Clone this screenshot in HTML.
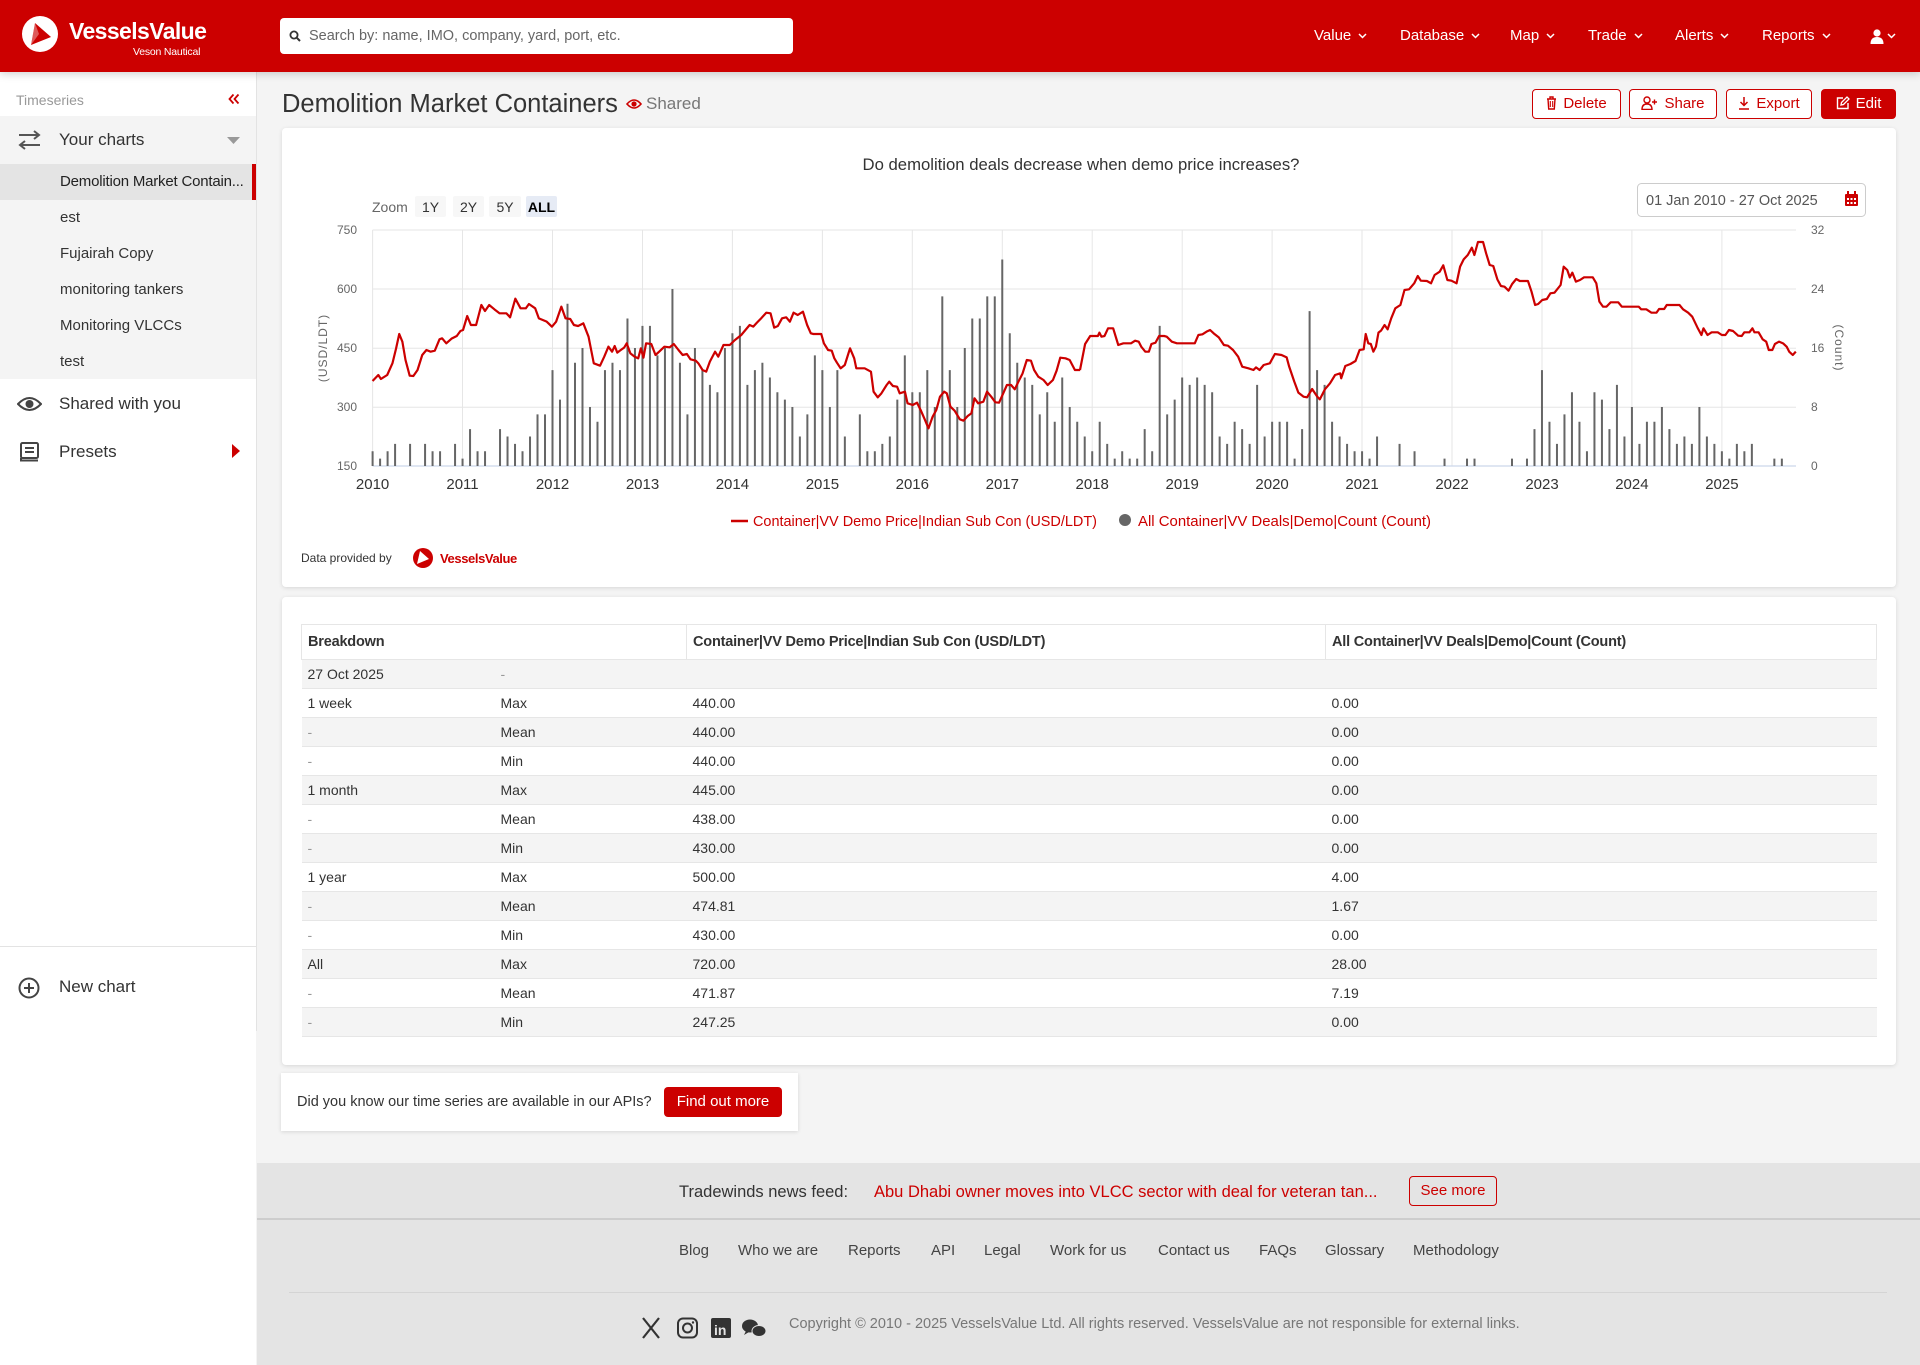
<!DOCTYPE html>
<html><head><meta charset="utf-8">
<style>
*{box-sizing:border-box;margin:0;padding:0}
html,body{width:1920px;height:1365px;overflow:hidden}
body{background:#f4f4f4;font-family:"Liberation Sans",Arial,sans-serif;color:#333;position:relative}
.abs{position:absolute}
.hdr{left:0;top:0;width:1920px;height:72px;background:#cc0000;box-shadow:0 2px 8px rgba(0,0,0,.18);z-index:5}
.nav{position:absolute;top:26px;color:#fff;font-size:15px;line-height:20px;white-space:nowrap}
.nav svg{margin-left:7px;vertical-align:middle}
.side{left:0;top:72px;width:256px;height:1293px;background:#fff}
.sb{position:absolute;white-space:nowrap}
.card{position:absolute;background:#fff;border-radius:4px;box-shadow:0 1px 4px rgba(0,0,0,.12)}
.btn{position:absolute;top:89px;height:30px;border:1px solid #cc0000;border-radius:4px;color:#cc0000;font-size:15px;line-height:28px;text-align:center;background:#fff;white-space:nowrap}
.btn svg{vertical-align:-2px;margin-right:6px}
table{border-collapse:collapse;table-layout:fixed}
th{height:35px;border:1px solid #e6e6e6;text-align:left;font-size:14.5px;font-weight:bold;color:#333;padding-left:6px;background:#fff;letter-spacing:-0.2px}
td{height:29px;border-bottom:1px solid #e6e6e6;font-size:14px;color:#333;padding-left:6px;white-space:nowrap}
tbody tr:nth-child(odd) td{background:#f4f4f4}
td.d{color:#999}
.fl{position:absolute;top:1242px;font-size:15px;color:#444;white-space:nowrap}
</style></head>
<body>

<!-- HEADER -->
<div class="abs hdr">
  <svg class="abs" style="left:22px;top:16px" width="36" height="36" viewBox="0 0 36 36">
    <circle cx="18" cy="18" r="18" fill="#fff"/>
    <polygon points="13,7 29,21 9,29" fill="#cc0000"/>
    <polygon points="13,7 17,18 9,29" fill="#fff" opacity=".35"/>
  </svg>
  <div class="abs" style="left:69px;top:18px;color:#fff;font-size:23px;font-weight:bold;letter-spacing:-0.6px;line-height:26px">VesselsValue</div>
  <div class="abs" style="left:133px;top:46px;color:#fff;font-size:10.5px;line-height:12px;letter-spacing:-0.2px">Veson Nautical</div>
  <div class="abs" style="left:280px;top:18px;width:513px;height:36px;background:#fff;border-radius:4px">
    <svg class="abs" style="left:9px;top:12px" width="12" height="12" viewBox="0 0 12 12"><circle cx="5" cy="5" r="3.6" fill="none" stroke="#333" stroke-width="1.8"/><line x1="7.6" y1="7.6" x2="11" y2="11" stroke="#333" stroke-width="2"/></svg>
    <div class="abs" style="left:29px;top:0;line-height:36px;font-size:14.5px;color:#666;white-space:nowrap">Search by: name, IMO, company, yard, port, etc.</div>
  </div>
  <div class="nav" style="left:1314px">Value<svg width="9" height="6"><polyline points="1,1 4.5,4.5 8,1" fill="none" stroke="#fff" stroke-width="1.5"/></svg></div>
  <div class="nav" style="left:1400px">Database<svg width="9" height="6"><polyline points="1,1 4.5,4.5 8,1" fill="none" stroke="#fff" stroke-width="1.5"/></svg></div>
  <div class="nav" style="left:1510px">Map<svg width="9" height="6"><polyline points="1,1 4.5,4.5 8,1" fill="none" stroke="#fff" stroke-width="1.5"/></svg></div>
  <div class="nav" style="left:1588px">Trade<svg width="9" height="6"><polyline points="1,1 4.5,4.5 8,1" fill="none" stroke="#fff" stroke-width="1.5"/></svg></div>
  <div class="nav" style="left:1675px">Alerts<svg width="9" height="6"><polyline points="1,1 4.5,4.5 8,1" fill="none" stroke="#fff" stroke-width="1.5"/></svg></div>
  <div class="nav" style="left:1762px">Reports<svg width="9" height="6"><polyline points="1,1 4.5,4.5 8,1" fill="none" stroke="#fff" stroke-width="1.5"/></svg></div>
  <svg class="abs" style="left:1870px;top:29px" width="28" height="15" viewBox="0 0 28 15">
    <circle cx="7" cy="4" r="3.6" fill="#fff"/><path d="M0.5 15 Q0.5 8 7 8 Q13.5 8 13.5 15Z" fill="#fff"/>
    <polyline points="18,5 21.5,8.5 25,5" fill="none" stroke="#fff" stroke-width="1.5"/>
  </svg>
</div>

<!-- SIDEBAR -->
<div class="abs side"></div>
<div class="abs" style="left:256px;top:72px;width:1px;height:959px;background:#e3e3e3"></div>
<div class="sb" style="left:16px;top:91px;font-size:14px;color:#999;line-height:18px">Timeseries</div>
<svg class="abs" style="left:228px;top:93px" width="12" height="12" viewBox="0 0 12 12"><polyline points="5.5,1.5 1.5,6 5.5,10.5" fill="none" stroke="#cc0000" stroke-width="1.8"/><polyline points="10.5,1.5 6.5,6 10.5,10.5" fill="none" stroke="#cc0000" stroke-width="1.8"/></svg>
<div class="abs" style="left:0;top:116px;width:256px;height:263px;background:#f4f4f4"></div>
<svg class="abs" style="left:18px;top:130px" width="23" height="20" viewBox="0 0 23 20"><path d="M1 5H21M16 1L21 5L16 9" fill="none" stroke="#555" stroke-width="2"/><path d="M22 15H2M7 11L2 15L7 19" fill="none" stroke="#555" stroke-width="2"/></svg>
<div class="sb" style="left:59px;top:130px;font-size:17px;line-height:20px;color:#333">Your charts</div>
<svg class="abs" style="left:227px;top:137px" width="13" height="8"><polygon points="0,0 13,0 6.5,7" fill="#999"/></svg>
<div class="abs" style="left:0;top:164px;width:256px;height:36px;background:#e4e4e4"></div>
<div class="abs" style="left:252px;top:164px;width:4px;height:36px;background:#cc0000"></div>
<div class="sb" style="left:60px;top:173px;font-size:15px;line-height:18px;color:#222;letter-spacing:-0.2px">Demolition Market Contain...</div>
<div class="sb" style="left:60px;top:209px;font-size:15px;line-height:18px">est</div>
<div class="sb" style="left:60px;top:245px;font-size:15px;line-height:18px">Fujairah Copy</div>
<div class="sb" style="left:60px;top:281px;font-size:15px;line-height:18px">monitoring tankers</div>
<div class="sb" style="left:60px;top:317px;font-size:15px;line-height:18px">Monitoring VLCCs</div>
<div class="sb" style="left:60px;top:353px;font-size:15px;line-height:18px">test</div>
<svg class="abs" style="left:17px;top:396px" width="25" height="16" viewBox="0 0 25 16"><path d="M1 8Q12.5 -4 24 8Q12.5 20 1 8Z" fill="none" stroke="#444" stroke-width="2"/><circle cx="12.5" cy="8" r="4" fill="#444"/></svg>
<div class="sb" style="left:59px;top:394px;font-size:17px;line-height:20px">Shared with you</div>
<svg class="abs" style="left:20px;top:442px" width="19" height="20" viewBox="0 0 19 20"><rect x="1" y="1" width="17" height="15" rx="1.5" fill="none" stroke="#444" stroke-width="2"/><path d="M1 16V18.5H18" fill="none" stroke="#444" stroke-width="2"/><line x1="5" y1="6" x2="14" y2="6" stroke="#444" stroke-width="2"/><line x1="5" y1="10" x2="14" y2="10" stroke="#444" stroke-width="2"/></svg>
<div class="sb" style="left:59px;top:442px;font-size:17px;line-height:20px">Presets</div>
<svg class="abs" style="left:232px;top:444px" width="8" height="14"><polygon points="0,0 8,7 0,14" fill="#cc0000"/></svg>
<div class="abs" style="left:0;top:946px;width:256px;height:1px;background:#e3e3e3"></div>
<svg class="abs" style="left:18px;top:977px" width="22" height="22" viewBox="0 0 22 22"><circle cx="11" cy="11" r="9.5" fill="none" stroke="#444" stroke-width="2"/><line x1="11" y1="6" x2="11" y2="16" stroke="#444" stroke-width="2"/><line x1="6" y1="11" x2="16" y2="11" stroke="#444" stroke-width="2"/></svg>
<div class="sb" style="left:59px;top:977px;font-size:17px;line-height:20px">New chart</div>

<!-- TITLE ROW -->
<div class="abs" style="left:282px;top:89px;font-size:25.5px;line-height:30px;color:#333;white-space:nowrap">Demolition Market Containers</div>
<svg class="abs" style="left:626px;top:98px" width="16" height="12" viewBox="0 0 16 12"><path d="M1 6Q8 -2 15 6Q8 14 1 6Z" fill="none" stroke="#cc0000" stroke-width="1.6"/><circle cx="8" cy="6" r="2.6" fill="#cc0000"/></svg>
<div class="abs" style="left:646px;top:94px;font-size:17px;line-height:20px;color:#777">Shared</div>

<div class="btn" style="left:1532px;width:89px"><svg width="11" height="14" viewBox="0 0 11 14"><path d="M1 3H10M4 3V1H7V3M2 3L2.7 13H8.3L9 3" fill="none" stroke="#cc0000" stroke-width="1.4"/><line x1="4.3" y1="5" x2="4.3" y2="11" stroke="#cc0000" stroke-width="1.1"/><line x1="6.7" y1="5" x2="6.7" y2="11" stroke="#cc0000" stroke-width="1.1"/></svg>Delete</div>
<div class="btn" style="left:1629px;width:88px"><svg width="17" height="14" viewBox="0 0 17 14"><circle cx="6" cy="4" r="3" fill="none" stroke="#cc0000" stroke-width="1.4"/><path d="M1 13.5Q1 8 6 8Q11 8 11 13.5Z" fill="none" stroke="#cc0000" stroke-width="1.4"/><path d="M11 6H16M13.5 3.5V8.5" stroke="#cc0000" stroke-width="1.4"/></svg>Share</div>
<div class="btn" style="left:1726px;width:86px"><svg width="12" height="14" viewBox="0 0 12 14"><path d="M6 1V9M2.5 6L6 9.5L9.5 6M1 13H11" fill="none" stroke="#cc0000" stroke-width="1.5"/></svg>Export</div>
<div class="btn" style="left:1821px;width:75px;background:#cc0000;color:#fff"><svg width="14" height="14" viewBox="0 0 14 14"><path d="M7 2H1.5V12.5H12V7" fill="none" stroke="#fff" stroke-width="1.4"/><path d="M5 9L5.5 6.5L11 1L13 3L7.5 8.5Z" fill="none" stroke="#fff" stroke-width="1.3"/></svg>Edit</div>

<!-- CHART CARD -->
<div class="card" style="left:282px;top:128px;width:1614px;height:459px"></div>

<svg class="abs" style="left:0;top:0" width="1920" height="600" font-family="Liberation Sans, Arial, sans-serif">
  <text x="1081" y="170" text-anchor="middle" font-size="16.7" fill="#333">Do demolition deals decrease when demo price increases?</text>
  <!-- zoom buttons -->
  <text x="372" y="212" font-size="14" fill="#666">Zoom</text>
  <rect x="415" y="196" width="31" height="21" rx="2" fill="#f7f7f7"/>
  <rect x="453" y="196" width="31" height="21" rx="2" fill="#f7f7f7"/>
  <rect x="489" y="196" width="32" height="21" rx="2" fill="#f7f7f7"/>
  <rect x="526" y="196" width="31" height="21" rx="2" fill="#e6ebf5"/>
  <text x="430.5" y="212" text-anchor="middle" font-size="14" fill="#333">1Y</text>
  <text x="468.5" y="212" text-anchor="middle" font-size="14" fill="#333">2Y</text>
  <text x="505" y="212" text-anchor="middle" font-size="14" fill="#333">5Y</text>
  <text x="541.5" y="212" text-anchor="middle" font-size="14" font-weight="bold" fill="#000">ALL</text>
  <!-- date picker -->
  <rect x="1637.5" y="183.5" width="228" height="33" rx="4" fill="#fff" stroke="#ccc"/>
  <text x="1646" y="205" font-size="14.5" fill="#555">01 Jan 2010 - 27 Oct 2025</text>
  <g fill="#cc0000"><rect x="1845" y="194" width="13" height="12" rx="1"/><rect x="1847" y="191" width="2" height="4"/><rect x="1854" y="191" width="2" height="4"/></g>
  <g fill="#fff"><rect x="1847" y="198" width="2" height="2"/><rect x="1850.5" y="198" width="2" height="2"/><rect x="1854" y="198" width="2" height="2"/><rect x="1847" y="202" width="2" height="2"/><rect x="1850.5" y="202" width="2" height="2"/><rect x="1854" y="202" width="2" height="2"/></g>

  <!-- grid -->
  <g stroke="#e6e6e6" stroke-width="1">
    <line x1="372.6" y1="230" x2="1796" y2="230"/>
    <line x1="372.6" y1="289" x2="1796" y2="289"/>
    <line x1="372.6" y1="348.3" x2="1796" y2="348.3"/>
    <line x1="372.6" y1="407.3" x2="1796" y2="407.3"/>
    <line x1="372.6" y1="230" x2="372.6" y2="466"/>
    <line x1="462.5" y1="230" x2="462.5" y2="466"/>
    <line x1="552.5" y1="230" x2="552.5" y2="466"/>
    <line x1="642.5" y1="230" x2="642.5" y2="466"/>
    <line x1="732.4" y1="230" x2="732.4" y2="466"/>
    <line x1="822.4" y1="230" x2="822.4" y2="466"/>
    <line x1="912.3" y1="230" x2="912.3" y2="466"/>
    <line x1="1002.3" y1="230" x2="1002.3" y2="466"/>
    <line x1="1092.2" y1="230" x2="1092.2" y2="466"/>
    <line x1="1182.2" y1="230" x2="1182.2" y2="466"/>
    <line x1="1272.1" y1="230" x2="1272.1" y2="466"/>
    <line x1="1362" y1="230" x2="1362" y2="466"/>
    <line x1="1452" y1="230" x2="1452" y2="466"/>
    <line x1="1542" y1="230" x2="1542" y2="466"/>
    <line x1="1631.9" y1="230" x2="1631.9" y2="466"/>
    <line x1="1721.9" y1="230" x2="1721.9" y2="466"/>
  </g>
  <line x1="372.6" y1="466" x2="1796" y2="466" stroke="#ccd6eb" stroke-width="1.2"/>

  <!-- bars -->
  <g transform="translate(372.6,466) scale(7.496,-7.375)">
    <path fill="none" stroke="#666" stroke-width="2" vector-effect="non-scaling-stroke" d="M0 0V2M1 0V1M2 0V2M3 0V3M5 0V3M7 0V3M8 0V2M9 0V2M11 0V3M12 0V1M13 0V5M14 0V2M15 0V2M17 0V5M18 0V4M19 0V3M20 0V2M21 0V4M22 0V7M23 0V7M24 0V13M25 0V9M26 0V22M27 0V14M28 0V16M29 0V8M30 0V6M31 0V13M32 0V14M33 0V13M34 0V20M35 0V16M36 0V19M37 0V19M38 0V15M39 0V16M40 0V24M41 0V14M42 0V7M43 0V16M44 0V13M45 0V11M46 0V10M47 0V16M48 0V18M49 0V19M50 0V11M51 0V13M52 0V14M53 0V12M54 0V10M55 0V9M56 0V8M57 0V4M58 0V7M59 0V15M60 0V13M61 0V8M62 0V13M63 0V4M65 0V7M66 0V2M67 0V2M68 0V3M69 0V4M70 0V9M71 0V15M72 0V10M73 0V10M74 0V13M75 0V8M76 0V23M77 0V13M78 0V8M79 0V16M80 0V20M81 0V20M82 0V23M83 0V23M84 0V28M85 0V18M86 0V14M87 0V12M88 0V11M89 0V7M90 0V10M91 0V6M92 0V12M93 0V8M94 0V6M95 0V4M96 0V2M97 0V6M98 0V3M99 0V1M100 0V2M101 0V1M102 0V1M103 0V5M104 0V2M105 0V19M106 0V7M107 0V9M108 0V12M109 0V11M110 0V12M111 0V11M112 0V10M113 0V4M114 0V3M115 0V6M116 0V5M117 0V3M118 0V11M119 0V4M120 0V6M121 0V6M122 0V6M123 0V1M124 0V5M125 0V21M126 0V13M127 0V11M128 0V6M129 0V4M130 0V3M131 0V2M132 0V2M133 0V1M134 0V4M137 0V3M139 0V2M143 0V1M146 0V1M147 0V1M152 0V1M154 0V1M155 0V5M156 0V13M157 0V6M158 0V3M159 0V7M160 0V10M161 0V6M162 0V2M163 0V10M164 0V9M165 0V5M166 0V11M167 0V4M168 0V8M169 0V3M170 0V6M171 0V6M172 0V8M173 0V5M174 0V3M175 0V4M176 0V3M177 0V8M178 0V4M179 0V3M180 0V2M181 0V1M182 0V3M183 0V2M184 0V3M187 0V1M188 0V1"/>
  </g>

  <!-- price line -->
  <g transform="translate(280,200) scale(0.52296,0.333333)">
    <polyline fill="none" stroke="#cc0000" stroke-width="2.2" stroke-linejoin="round" vector-effect="non-scaling-stroke" points="177,543 188,525 193,537 205,525 215,490 222,445 228,402 234,425 240,480 248,527 255,528 263,510 272,465 280,450 288,455 296,452 305,418 310,415 318,430 328,416 338,408 345,393 350,390 358,348 365,375 375,375 385,315 392,333 400,315 410,328 420,340 433,340 440,352 450,296 460,325 470,325 476,312 488,325 495,355 510,365 520,380 528,365 538,320 546,355 555,357 562,375 570,378 580,370 590,410 600,490 612,497 620,470 628,440 635,455 640,438 645,458 650,452 658,443 663,430 670,460 678,470 685,475 690,445 695,473 700,430 710,432 718,465 725,455 735,440 745,442 753,432 762,450 770,465 778,462 785,478 795,482 800,490 808,510 815,515 822,485 832,455 838,470 848,435 860,435 870,420 882,405 890,390 898,375 905,380 912,368 920,355 930,338 938,340 945,383 952,378 960,355 968,352 975,365 982,338 990,345 1000,335 1008,375 1015,400 1020,402 1035,402 1040,430 1048,450 1055,452 1060,475 1065,488 1072,505 1080,495 1090,445 1098,475 1102,505 1118,505 1130,515 1135,575 1143,592 1150,580 1160,555 1165,545 1172,558 1180,560 1185,580 1195,575 1200,610 1210,615 1218,608 1225,630 1232,655 1240,685 1248,650 1255,630 1262,590 1270,575 1275,580 1282,620 1290,632 1300,658 1307,662 1315,648 1322,640 1328,595 1335,610 1345,605 1352,575 1360,590 1368,607 1375,608 1383,580 1390,555 1398,555 1405,568 1412,545 1420,520 1428,480 1436,482 1442,510 1450,530 1460,540 1468,555 1478,540 1485,512 1492,473 1502,475 1510,480 1520,510 1530,510"/>
  </g>
  <g transform="translate(1080,200) scale(0.510204,0.333333)">
    <polyline fill="none" stroke="#cc0000" stroke-width="2.2" stroke-linejoin="round" vector-effect="non-scaling-stroke" points="0,510 10,432 20,408 35,408 38,398 42,410 48,408 55,385 65,385 75,435 85,430 100,430 108,422 115,425 120,440 128,455 135,455 140,432 148,428 155,408 165,408 170,410 180,425 190,430 225,430 232,405 240,403 248,395 255,390 262,400 272,412 282,435 290,437 300,450 310,470 318,500 330,505 340,510 345,502 352,510 360,495 372,490 382,462 395,465 405,472 410,500 420,545 428,578 438,590 445,592 455,567 465,590 470,598 480,568 490,550 500,525 510,520 512,535 520,498 530,492 540,483 548,450 556,448 560,402 565,430 570,432 575,455 580,440 585,398 590,392 597,375 603,388 610,355 618,325 628,315 636,270 645,268 655,250 662,228 668,242 680,243 688,250 695,225 705,215 712,196 720,240 728,242 738,250 745,200 752,178 760,165 768,143 773,165 780,126 790,126 796,160 803,195 810,198 818,238 825,258 832,260 840,272 847,252 855,237 862,243 878,243 885,275 892,315 898,312 906,300 915,297 922,280 930,278 942,255 948,200 955,210 960,232 965,218 972,245 980,240 988,232 1005,232 1012,250 1018,305 1025,320 1032,320 1040,307 1055,307 1062,320 1095,320 1100,328 1110,328 1120,338 1130,338 1135,327 1145,327 1150,315 1175,315 1182,328 1192,338 1200,350 1210,382 1218,405 1222,385 1230,405 1238,397 1250,397 1258,405 1265,405 1272,390 1280,393 1290,407 1297,408 1302,397 1312,397 1318,385 1322,397 1330,397 1338,418 1345,425 1350,450 1357,450 1362,432 1370,425 1378,430 1385,440 1390,455 1397,465 1403,455"/>
  </g>

  <!-- axis labels -->
  <g font-size="12" fill="#666" text-anchor="end">
    <text x="357" y="234">750</text><text x="357" y="293">600</text><text x="357" y="352">450</text><text x="357" y="411">300</text><text x="357" y="470">150</text>
  </g>
  <g font-size="12" fill="#666">
    <text x="1811" y="234">32</text><text x="1811" y="293">24</text><text x="1811" y="352">16</text><text x="1811" y="411">8</text><text x="1811" y="470">0</text>
  </g>
  <text transform="translate(327,348) rotate(-90)" text-anchor="middle" font-size="12" fill="#666" letter-spacing="1">(USD/LDT)</text>
  <text transform="translate(1835,348) rotate(90)" text-anchor="middle" font-size="12" fill="#666" letter-spacing="1">(Count)</text>
  <g font-size="15" fill="#333" text-anchor="middle">
    <text x="372.6" y="489">2010</text><text x="462.5" y="489">2011</text><text x="552.5" y="489">2012</text><text x="642.5" y="489">2013</text><text x="732.4" y="489">2014</text><text x="822.4" y="489">2015</text><text x="912.3" y="489">2016</text><text x="1002.3" y="489">2017</text><text x="1092.2" y="489">2018</text><text x="1182.2" y="489">2019</text><text x="1272.1" y="489">2020</text><text x="1362" y="489">2021</text><text x="1452" y="489">2022</text><text x="1542" y="489">2023</text><text x="1631.9" y="489">2024</text><text x="1721.9" y="489">2025</text>
  </g>

  <!-- legend -->
  <line x1="731" y1="521" x2="748" y2="521" stroke="#cc0000" stroke-width="2.5"/>
  <text x="753" y="526" font-size="14.5" fill="#cc0000" textLength="344" lengthAdjust="spacingAndGlyphs">Container|VV Demo Price|Indian Sub Con (USD/LDT)</text>
  <circle cx="1125" cy="520" r="6" fill="#666"/>
  <text x="1138" y="526" font-size="14.5" fill="#cc0000" textLength="293" lengthAdjust="spacingAndGlyphs">All Container|VV Deals|Demo|Count (Count)</text>

  <!-- data provided -->
  <text x="301" y="562" font-size="12" fill="#333">Data provided by</text>
  <circle cx="423" cy="558" r="10" fill="#cc0000"/>
  <polygon points="420,551 429,559 417,564" fill="#fff"/>
  <text x="440" y="563" font-size="13" font-weight="bold" fill="#cc0000" letter-spacing="-0.4">VesselsValue</text>
</svg>

<!-- TABLE CARD -->
<div class="card" style="left:282px;top:597px;width:1614px;height:468px"></div>
<table class="abs" style="left:301px;top:624px;width:1575px">
  <colgroup><col style="width:193px"><col style="width:192px"><col style="width:639px"><col style="width:551px"></colgroup>
  <thead><tr><th colspan="2">Breakdown</th><th>Container|VV Demo Price|Indian Sub Con (USD/LDT)</th><th>All Container|VV Deals|Demo|Count (Count)</th></tr></thead>
  <tbody>
    <tr><td>27 Oct 2025</td><td class="d">-</td><td></td><td></td></tr>
    <tr><td>1 week</td><td>Max</td><td>440.00</td><td>0.00</td></tr>
    <tr><td class="d">-</td><td>Mean</td><td>440.00</td><td>0.00</td></tr>
    <tr><td class="d">-</td><td>Min</td><td>440.00</td><td>0.00</td></tr>
    <tr><td>1 month</td><td>Max</td><td>445.00</td><td>0.00</td></tr>
    <tr><td class="d">-</td><td>Mean</td><td>438.00</td><td>0.00</td></tr>
    <tr><td class="d">-</td><td>Min</td><td>430.00</td><td>0.00</td></tr>
    <tr><td>1 year</td><td>Max</td><td>500.00</td><td>4.00</td></tr>
    <tr><td class="d">-</td><td>Mean</td><td>474.81</td><td>1.67</td></tr>
    <tr><td class="d">-</td><td>Min</td><td>430.00</td><td>0.00</td></tr>
    <tr><td>All</td><td>Max</td><td>720.00</td><td>28.00</td></tr>
    <tr><td class="d">-</td><td>Mean</td><td>471.87</td><td>7.19</td></tr>
    <tr><td class="d">-</td><td>Min</td><td>247.25</td><td>0.00</td></tr>
  </tbody>
</table>

<!-- API CARD -->
<div class="card" style="left:281px;top:1073px;width:517px;height:58px;border-radius:0"></div>
<div class="abs" style="left:297px;top:1093px;font-size:14.5px;line-height:18px;color:#333;white-space:nowrap">Did you know our time series are available in our APIs?</div>
<div class="abs" style="left:664px;top:1087px;width:118px;height:30px;background:#cc0000;border-radius:4px;color:#fff;font-size:15px;line-height:30px;text-align:center;white-space:nowrap">Find out more</div>

<!-- FOOTER -->
<div class="abs" style="left:257px;top:1163px;width:1663px;height:202px;background:#e4e4e4"></div>
<div class="abs" style="left:679px;top:1182px;font-size:16.5px;line-height:20px;color:#333;white-space:nowrap">Tradewinds news feed:</div>
<div class="abs" style="left:874px;top:1182px;font-size:16.5px;line-height:20px;color:#cc0000;white-space:nowrap">Abu Dhabi owner moves into VLCC sector with deal for veteran tan...</div>
<div class="abs" style="left:1409px;top:1176px;width:88px;height:30px;border:1px solid #cc0000;border-radius:4px;color:#cc0000;font-size:15px;line-height:28px;text-align:center">See more</div>
<div class="abs" style="left:257px;top:1218px;width:1663px;height:2px;background:#cdcdcd"></div>
<div class="fl" style="left:679px">Blog</div>
<div class="fl" style="left:738px">Who we are</div>
<div class="fl" style="left:848px">Reports</div>
<div class="fl" style="left:931px">API</div>
<div class="fl" style="left:984px">Legal</div>
<div class="fl" style="left:1050px">Work for us</div>
<div class="fl" style="left:1158px">Contact us</div>
<div class="fl" style="left:1259px">FAQs</div>
<div class="fl" style="left:1325px">Glossary</div>
<div class="fl" style="left:1413px">Methodology</div>
<div class="abs" style="left:289px;top:1292px;width:1598px;height:1px;background:#d4d4d4"></div>
<svg class="abs" style="left:641px;top:1316px" width="130" height="24" viewBox="0 0 130 24">
  <path d="M2 2L18 22M18 2L2 22" stroke="#333" stroke-width="2.2"/>
  <rect x="37" y="2.5" width="19" height="19" rx="5" fill="none" stroke="#333" stroke-width="2"/>
  <circle cx="46.5" cy="12" r="4.5" fill="none" stroke="#333" stroke-width="2"/>
  <circle cx="52" cy="6.5" r="1.2" fill="#333"/>
  <rect x="70" y="2" width="20" height="20" rx="2" fill="#333"/>
  <text x="73" y="19" font-family="Liberation Sans, Arial, sans-serif" font-size="14" font-weight="bold" fill="#e4e4e4">in</text>
  <ellipse cx="109" cy="10" rx="8" ry="6.5" fill="#333"/>
  <ellipse cx="118" cy="15" rx="7" ry="5.5" fill="#333" stroke="#e4e4e4" stroke-width="1"/>
  <path d="M105 15L103 19L108 16Z" fill="#333"/>
</svg>
<div class="abs" style="left:789px;top:1315px;font-size:14.5px;line-height:18px;color:#777;white-space:nowrap">Copyright © 2010 - 2025 VesselsValue Ltd. All rights reserved. VesselsValue are not responsible for external links.</div>

</body></html>
